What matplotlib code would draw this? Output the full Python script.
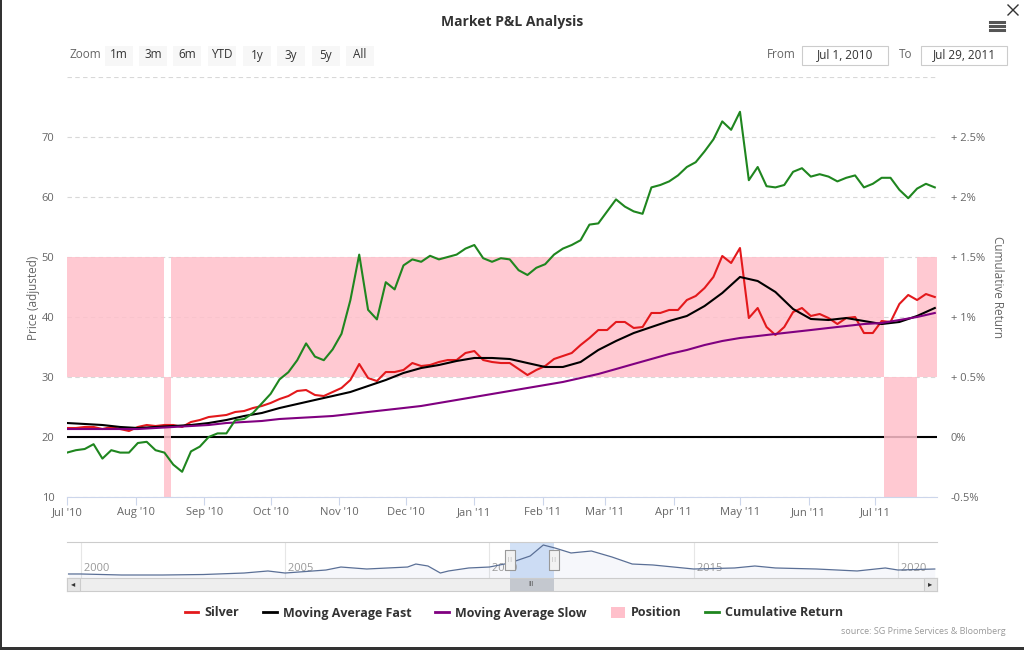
import matplotlib

matplotlib.use("Agg")

import matplotlib.dates as mdates
import matplotlib.pyplot as plt
import numpy as np
import pandas as pd
from matplotlib.lines import Line2D
from matplotlib.patches import Patch, Rectangle

plt.rcParams["font.family"] = ["Open Sans", "DejaVu Sans"]

W, H = 1024, 650

# ---------------------------------------------------------------- data
dates = pd.date_range("2010-07-01", "2011-07-28", freq="4D")

silver = [
    21.5, 21.5, 21.67, 21.67, 21.33, 21.67, 21.33, 21.0, 21.67, 22.0,
    21.83, 22.0, 22.0, 21.67, 22.5, 22.83, 23.33, 23.5, 23.67, 24.17,
    24.33, 24.83, 25.17, 25.67, 26.33, 26.83, 27.67, 27.83, 27.0, 26.83,
    27.5, 28.17, 29.5, 32.17, 29.83, 29.33, 30.83, 30.83, 31.17, 32.33,
    31.83, 32.0, 32.5, 32.83, 32.83, 34.0, 34.33, 32.83, 32.5, 32.33,
    32.33, 31.33, 30.33, 31.17, 31.83, 33.0, 33.5, 34.0, 35.33, 36.5,
    37.83, 37.83, 39.17, 39.17, 38.17, 38.33, 40.67, 40.67, 41.17, 41.17,
    42.83, 43.5, 44.83, 46.67, 50.17, 49.0, 51.5, 39.83, 41.5, 38.33,
    37.0, 38.33, 40.83, 41.5, 40.17, 40.5, 39.83, 38.83, 39.83, 40.0,
    37.33, 37.33, 39.33, 39.17, 42.17, 43.67, 42.83, 43.83, 43.33,
]

ma_dates = dates[::2]
ma_fast = [
    22.33, 22.17, 22.0, 21.67, 21.5, 21.67, 21.83, 22.0, 22.33, 22.83,
    23.5, 24.0, 24.83, 25.5, 26.17, 26.83, 27.5, 28.5, 29.5, 30.67,
    31.5, 32.0, 32.67, 33.17, 33.17, 33.0, 32.33, 31.67, 31.67, 32.5,
    34.5, 36.0, 37.33, 38.33, 39.33, 40.17, 41.83, 44.0, 46.67, 46.0,
    44.17, 41.33, 39.67, 39.5, 39.83, 39.33, 38.83, 39.17, 40.17, 41.5,
]
ma_slow = [
    21.33, 21.33, 21.33, 21.33, 21.33, 21.5, 21.67, 21.83, 22.0, 22.33,
    22.5, 22.67, 23.0, 23.17, 23.33, 23.5, 23.83, 24.17, 24.5, 24.83,
    25.17, 25.67, 26.17, 26.67, 27.17, 27.67, 28.17, 28.67, 29.17, 29.83,
    30.5, 31.33, 32.17, 33.0, 33.83, 34.5, 35.33, 36.0, 36.5, 36.83,
    37.17, 37.5, 37.83, 38.17, 38.5, 38.83, 39.0, 39.5, 40.0, 40.67,
]

# cumulative return in percent (right axis)
cum_return = [
    -0.13, -0.11, -0.10, -0.06, -0.18, -0.11, -0.13, -0.13, -0.05, -0.04,
    -0.11, -0.13, -0.23, -0.29, -0.12, -0.08, 0.0, 0.03, 0.03, 0.14,
    0.15, 0.2, 0.28, 0.36, 0.48, 0.54, 0.64, 0.78, 0.67, 0.64,
    0.73, 0.86, 1.14, 1.52, 1.06, 0.98, 1.29, 1.23, 1.43, 1.48,
    1.46, 1.51, 1.48, 1.5, 1.52, 1.57, 1.6, 1.49, 1.46, 1.49,
    1.48, 1.39, 1.35, 1.41, 1.44, 1.52, 1.57, 1.6, 1.64, 1.77,
    1.78, 1.88, 1.98, 1.92, 1.88, 1.86, 2.08, 2.1, 2.13, 2.18,
    2.25, 2.29, 2.38, 2.48, 2.63, 2.56, 2.71, 2.14, 2.25, 2.09,
    2.08, 2.1, 2.21, 2.24, 2.17, 2.19, 2.17, 2.13, 2.16, 2.18,
    2.08, 2.11, 2.16, 2.16, 2.06, 1.99, 2.07, 2.11, 2.08,
]

# position: +1 long (band 30-50), -1 short (band 10-30)
pos_dates = pd.to_datetime([
    "2010-07-01", "2010-08-14", "2010-08-17", "2011-07-05", "2011-07-20", "2011-07-29",
])
pos_side = np.array([1, -1, 1, -1, 1, 1])

# navigator: long history of the same series
nav_dates = pd.to_datetime([
    "1999-09-15", "2000-01-01", "2001-01-01", "2002-01-01", "2003-01-01", "2004-01-01",
    "2004-08-01", "2005-01-01", "2006-01-01", "2006-05-15", "2007-01-01", "2008-01-01",
    "2008-03-15", "2008-07-01", "2008-10-20", "2009-01-01", "2009-07-01", "2010-01-01",
    "2010-07-01", "2011-01-01", "2011-04-28", "2011-08-10", "2012-01-01", "2012-07-01",
    "2013-01-01", "2013-07-01", "2014-01-01", "2015-01-01", "2016-01-01", "2016-07-01",
    "2017-01-01", "2018-01-01", "2019-01-01", "2019-09-10", "2020-01-01", "2020-11-25",
])
nav_silver = [
    3.2, 3.2, 1.5, 1.5, 2.3, 4.8, 8.2, 4.8, 9.8, 14.8, 11.5, 14.8,
    19.8, 16.5, 4.8, 8.2, 13.2, 14.8, 21.5, 33.2, 51.5, 46.5, 38.2, 41.5,
    31.5, 19.8, 18.2, 11.5, 13.2, 16.5, 13.2, 11.5, 8.2, 13.2, 9.8, 11.5,
]
nav_years = [2000, 2005, 2010, 2015, 2020]

x_start, x_end = pd.Timestamp("2010-07-01"), pd.Timestamp("2011-07-29")

RED, PURPLE, GREEN = "#e3191c", "#800080", "#1f861f"
PINK = "pink"
GREY_TXT = "#666666"


def fx(x):
    return x / W


def fy(y):
    return 1 - y / H


fig = plt.figure(figsize=(W / 100, H / 100), dpi=100)

# ---------------------------------------------------------------- main chart
ax = fig.add_axes([fx(67), fy(497), fx(937) - fx(67), fy(77) - fy(497)])
ax2 = ax.twinx()

low = np.where(pos_side > 0, 30, 10)
high = np.where(pos_side > 0, 50, 30)
ax.fill_between(pos_dates, low, high, step="post", color=PINK, alpha=0.85, lw=0, zorder=2)
# zero-return plot line (price 20 == 0 % on the right axis)
ax.axhline(20, color="black", lw=1.5, zorder=1.5)

ax.plot(dates, silver, color=RED, lw=1.5, zorder=3)
ax.plot(ma_dates, ma_fast, color="black", lw=1.5, zorder=4)
ax.plot(ma_dates, ma_slow, color=PURPLE, lw=1.5, zorder=4)
ax2.plot(dates, cum_return, color=GREEN, lw=1.5, zorder=5)

ax.set_xlim(x_start, x_end)
ax.set_ylim(10, 80)
ax2.set_ylim(-0.5, 3.0)

left_ticks = np.arange(10, 81, 10)
ax.set_yticks(left_ticks)
ax.set_yticklabels([f"{v:d}" for v in left_ticks[:-1]] + [""])
ax.grid(axis="y", color="#d8d8d8", lw=0.8, ls=(0, (4, 3)))
ax.set_axisbelow(True)
ax.tick_params(axis="y", length=0, pad=9, labelsize=8, labelcolor=GREY_TXT)

right_ticks = np.arange(-0.5, 2.51, 0.5)
ax2.set_yticks(right_ticks)
ax2.set_yticklabels([f"+ {v:g}%" if v > 0 else f"{v:g}%" for v in right_ticks])
ax2.tick_params(axis="y", length=0, pad=10, labelsize=8, labelcolor=GREY_TXT)

ax.xaxis.set_major_locator(mdates.MonthLocator())
ax.xaxis.set_major_formatter(mdates.DateFormatter("%b '%y"))
ax.tick_params(axis="x", length=6, color="#ccd6eb", pad=1, labelsize=8, labelcolor=GREY_TXT)

for a in (ax, ax2):
    for side in ("top", "left", "right"):
        a.spines[side].set_visible(False)
ax2.spines["bottom"].set_visible(False)
ax.spines["bottom"].set_color("#ccd6eb")

fig.text(fx(33), fy(298), "Price (adjusted)", rotation=90, ha="center", va="center",
         fontsize=8.5, color=GREY_TXT)
fig.text(fx(997), fy(287), "Cumulative Return", rotation=270, ha="center", va="center",
         fontsize=8.5, color=GREY_TXT)

# ---------------------------------------------------------------- navigator
nav = fig.add_axes([fx(67), fy(578), fx(937) - fx(67), fy(542) - fy(578)])
nav.fill_between(nav_dates, nav_silver, -10, color="#6685c2", alpha=0.06, lw=0)
nav.plot(nav_dates, nav_silver, color="#5a6f96", lw=0.9, zorder=3)
nav.set_xlim(pd.Timestamp("1999-09-01"), pd.Timestamp("2020-12-15"))
nav.set_ylim(-3.5, 56.5)
for yr in nav_years:
    d = pd.Timestamp(f"{yr}-01-01")
    nav.axvline(d, color="#e6e6e6", lw=0.8, zorder=0)
    nav.text(d, 0.12, f" {yr}", fontsize=8, color="#999999", va="bottom", ha="left",
             transform=nav.get_xaxis_transform(), zorder=2)
nav.axvspan(x_start, x_end, color="#8fb5ea", alpha=0.4, lw=0, zorder=1)
nav.set_xticks([])
nav.set_yticks([])
for side in ("left", "right", "bottom"):
    nav.spines[side].set_visible(False)
nav.spines["top"].set_color("#cccccc")
handle = [(-1, -2), (1, -2), (1, 2), (-1, 2), (-1, -2)]
for d in (x_start, x_end):
    nav.plot([d], [0.5], marker=handle, ms=15, mfc="#f2f2f2", mec="#999999", mew=0.8,
             transform=nav.get_xaxis_transform(), clip_on=False, zorder=4)
    nav.text(d, 0.5, "||", fontsize=4.5, color="#999999", ha="center", va="center",
             transform=nav.get_xaxis_transform(), zorder=5)

# scrollbar
sb = fig.add_axes([fx(67), fy(591), fx(937) - fx(67), fy(578) - fy(591)])
sb.set_facecolor("#eeeeee")
sb.set_xlim(nav.get_xlim())
sb.axvspan(x_start, x_end, color="#c4c8cf", lw=0)
sb.text(x_start + (x_end - x_start) / 2, 0.5, "III", fontsize=5, color="#555555",
        ha="center", va="center", transform=sb.get_xaxis_transform())
sb.set_xticks([])
sb.set_yticks([])
for s in sb.spines.values():
    s.set_color("#cccccc")
for bx, arrow in ((67, "◂"), (924, "▸")):
    fig.patches.append(Rectangle((fx(bx), fy(591)), fx(13), 13 / H, transform=fig.transFigure,
                                 facecolor="#e6e6e6", edgecolor="#cccccc", lw=0.8))
    fig.text(fx(bx + 6.5), fy(584.5), arrow, ha="center", va="center", fontsize=6, color="#333333")

# ---------------------------------------------------------------- header
fig.text(fx(512), fy(22), "Market P&L Analysis", ha="center", va="center",
         fontsize=10, fontweight="bold", color="#333333")

fig.text(fx(69), fy(55), "Zoom", ha="left", va="center", fontsize=8.5, color=GREY_TXT)
zoom_buttons = ["1m", "3m", "6m", "YTD", "1y", "3y", "5y", "All"]
button_x = [105, 139, 173, 208, 243, 277, 312, 346]
for label, bx in zip(zoom_buttons, button_x):
    fig.patches.append(Rectangle((fx(bx), fy(66)), fx(28), 20 / H, transform=fig.transFigure,
                                 facecolor="#f7f7f7", edgecolor="none"))
    fig.text(fx(bx + 14), fy(55), label, ha="center", va="center", fontsize=8.5, color="#333333")

fig.text(fx(767), fy(55), "From", ha="left", va="center", fontsize=8.5, color=GREY_TXT)
fig.text(fx(899), fy(55), "To", ha="left", va="center", fontsize=8.5, color=GREY_TXT)
for bx, label in ((802, "Jul 1, 2010"), (921, "Jul 29, 2011")):
    fig.patches.append(Rectangle((fx(bx), fy(65)), fx(86), 19 / H, transform=fig.transFigure,
                                 facecolor="white", edgecolor="#cccccc", lw=0.8))
    fig.text(fx(bx + 43), fy(55), label, ha="center", va="center", fontsize=8.5, color="#333333")

for yy in (22, 26, 30):
    fig.add_artist(Line2D([fx(990), fx(1004)], [fy(yy), fy(yy)], color="#555555", lw=2.2))
fig.add_artist(Line2D([fx(1008), fx(1018)], [fy(5), fy(15)], color="#333333", lw=1))
fig.add_artist(Line2D([fx(1008), fx(1018)], [fy(15), fy(5)], color="#333333", lw=1))

# ---------------------------------------------------------------- legend / source
legend_handles = [
    Line2D([], [], color=RED, lw=2),
    Line2D([], [], color="black", lw=2),
    Line2D([], [], color=PURPLE, lw=2),
    Patch(facecolor=PINK, edgecolor="none"),
    Line2D([], [], color=GREEN, lw=2),
]
legend_labels = ["Silver", "Moving Average Fast", "Moving Average Slow", "Position", "Cumulative Return"]
leg = fig.legend(legend_handles, legend_labels, loc="center", bbox_to_anchor=(fx(514), fy(613)),
                 ncol=5, frameon=False, handlelength=1.1, handleheight=1.0, handletextpad=0.5,
                 columnspacing=1.9, prop={"size": 9, "weight": "bold"})
for t in leg.get_texts():
    t.set_color("#333333")

fig.text(fx(1006), fy(631), "source: SG Prime Services & Bloomberg", ha="right", va="center",
         fontsize=6.5, color="#999999")

# screenshot frame edges
fig.patches.append(Rectangle((0, 0), fx(2), 1, transform=fig.transFigure, facecolor="#333333", lw=0))
fig.patches.append(Rectangle((0, 0), 1, 3 / H, transform=fig.transFigure, facecolor="#333333", lw=0))

fig.savefig("out.png", dpi=100, facecolor="white")
